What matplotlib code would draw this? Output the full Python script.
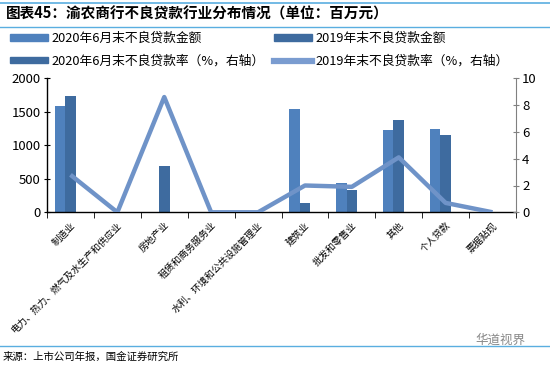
import matplotlib
matplotlib.use("Agg")
import matplotlib.pyplot as plt
import numpy as np
from matplotlib.patches import Patch
from matplotlib.lines import Line2D

plt.rcParams['font.family'] = ['Noto Sans CJK SC', 'DejaVu Sans']

categories = ["制造业", "电力、热力、燃气及水生产和供应业", "房地产业", "租赁和商务服务业",
              "水利、环境和公共设施管理业", "建筑业", "批发和零售业", "其他", "个人贷款", "票据贴现"]
npl_2020h1 = [1590, 0, 0, 0, 0, 1540, 440, 1230, 1250, 0]
npl_2019 = [1730, 0, 690, 0, 0, 140, 330, 1380, 1150, 0]
rate_2020h1 = [2.6, 0, 0, 0, 0, 10, 2.0, 4.0, 0.8, 0]
rate_2019 = [2.8, 0, 8.6, 0, 0, 2.0, 1.9, 4.1, 0.7, 0]

c2020 = "#4f81bd"
c2019 = "#3e6b9f"
cline = "#6f93c8"

fig = plt.figure(figsize=(5.5, 3.67), dpi=100)
W, H = 550, 367

# header lines and title
fig.add_artist(Line2D([0, 1], [1 - 3 / H, 1 - 3 / H], color="#5aaee0", lw=1.2))
fig.add_artist(Line2D([0, 1], [1 - 27 / H, 1 - 27 / H], color="#5aaee0", lw=1.0))
fig.text(6 / W, 1 - 14 / H, "图表45：渝农商行不良贷款行业分布情况（单位：百万元）",
         fontsize=10.5, fontweight="bold", va="center", ha="left")

ax = fig.add_axes([47 / W, 1 - 212.3 / H, (516 - 47) / W, (212.3 - 78.3) / H])
ax2 = ax.twinx()

x = np.arange(len(categories))
bw = 0.225
ax.bar(x - bw, npl_2020h1, bw, color=c2020, zorder=2)
ax.bar(x, npl_2019, bw, color=c2019, zorder=2)
ax.bar(x + bw, rate_2020h1, bw, color=c2019, zorder=2)
ax2.plot(x, rate_2019, color=cline, lw=3.2, solid_capstyle="butt", zorder=3)

ax.set_xlim(-0.5, len(categories) - 0.5)
ax.set_ylim(0, 2000)
ax.set_yticks([0, 500, 1000, 1500, 2000])
ax2.set_ylim(0, 10)
ax2.set_yticks([0, 2, 4, 6, 8, 10])

for s in ["top", "right"]:
    ax.spines[s].set_visible(False)
ax2.spines["top"].set_visible(False)
ax2.spines["left"].set_visible(False)
ax2.spines["bottom"].set_visible(False)
ax2.spines["right"].set_color("#808080")
ax.spines["left"].set_color("black")
ax.spines["bottom"].set_color("black")
ax.spines["left"].set_linewidth(1.0)
ax.spines["bottom"].set_linewidth(1.0)

ax.tick_params(axis="y", direction="inout", length=5, labelsize=9.5, pad=2)
ax2.tick_params(axis="y", direction="inout", length=5, labelsize=9.5, pad=2, color="#808080")

ax.set_xticks(np.arange(-0.5, len(categories), 1.0), minor=True)
ax.set_xticks(x)
ax.set_xticklabels(categories, rotation=45, ha="right", va="top", rotation_mode="anchor",
                   fontsize=6.8)
ax.tick_params(axis="x", which="major", length=0, pad=6)
ax.tick_params(axis="x", which="minor", direction="out", length=4)

# legend (column-wise fill: col1 = 2020 items, col2 = 2019 items)
h_amt20 = Patch(color=c2020)
h_amt19 = Patch(color=c2019)
h_rate20 = Patch(color=c2019)
h_rate19 = Line2D([], [], color="#7a9cd0", lw=4.5)
handles = [h_amt20, h_rate20, h_amt19, h_rate19]
labels = ["2020年6月末不良贷款金额", "2020年6月末不良贷款率（%，右轴）",
          "2019年末不良贷款金额", "2019年末不良贷款率（%，右轴）"]
fig.legend(handles, labels, loc="upper left", bbox_to_anchor=(10 / W, 1 - 32 / H),
           borderaxespad=0, borderpad=0,
           ncol=2, frameon=False, fontsize=9.2, handlelength=3.0, handleheight=0.4,
           columnspacing=0.7, labelspacing=0.75, handletextpad=0.25)

# footer
fig.add_artist(Line2D([0, 1], [1 - 346 / H, 1 - 346 / H], color="#5aaee0", lw=1.0))
fig.text(3 / W, 1 - 357 / H, "来源：上市公司年报，国金证券研究所", fontsize=7.5, va="center", ha="left")
fig.text(500 / W, 1 - 340 / H, "华道视界", fontsize=9, color="#888888", va="center", ha="center")

fig.savefig("out.png", dpi=100)
